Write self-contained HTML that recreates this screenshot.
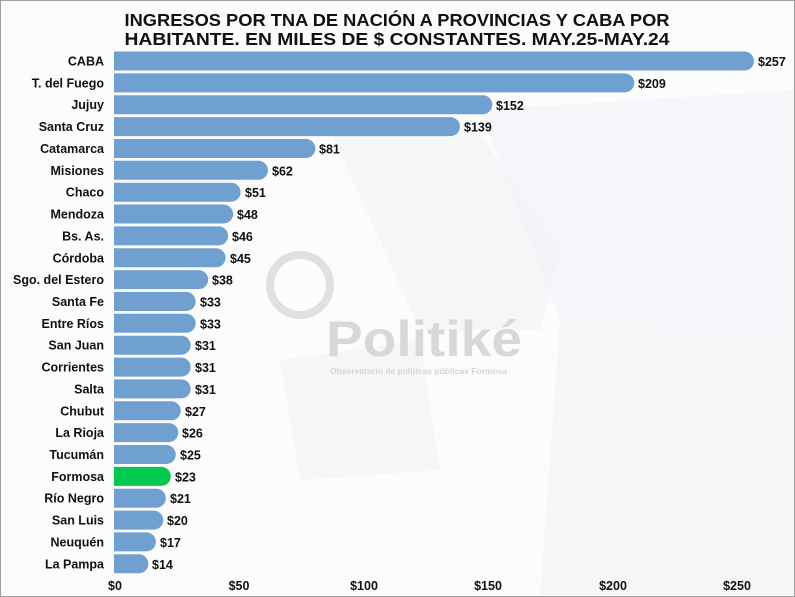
<!DOCTYPE html>
<html><head><meta charset="utf-8"><style>
html,body{margin:0;padding:0;background:#fff}
svg{display:block;font-family:"Liberation Sans",Arial,sans-serif}
</style></head><body>
<svg width="795" height="597" viewBox="0 0 795 597" xmlns="http://www.w3.org/2000/svg">
<rect x="0" y="0" width="795" height="597" fill="#fcfcfd"/>
<path d="M330 130 L470 120 L560 250 L540 330 L420 330 Z" fill="#f0f1f3" opacity="0.6"/>
<path d="M480 110 L795 90 L795 330 L560 320 Z" fill="#f1f3f6" opacity="0.7"/>
<path d="M560 320 L795 330 L795 597 L540 597 Z" fill="#f3f4f6" opacity="0.7"/>
<path d="M280 360 L420 340 L440 470 L300 480 Z" fill="#f1f2f4" opacity="0.6"/>
<circle cx="300" cy="285" r="30" fill="none" stroke="#e0e0e0" stroke-width="8"/>
<text x="326" y="356" font-size="50" font-weight="bold" fill="#d8d8d8" textLength="196" lengthAdjust="spacingAndGlyphs">Politiké</text>
<text x="330" y="374" font-size="8.5" font-weight="bold" fill="#d4d4d4">Observatorio de políticas públicas Formosa</text>
<rect x="0.5" y="0.5" width="794" height="596" fill="none" stroke="#a0a0a0"/>
<text x="397" y="26" font-size="17.5" font-weight="bold" text-anchor="middle" fill="#111" textLength="545" lengthAdjust="spacingAndGlyphs">INGRESOS POR TNA DE NACIÓN A PROVINCIAS Y CABA POR</text>
<text x="397" y="45" font-size="17.5" font-weight="bold" text-anchor="middle" fill="#111" textLength="545" lengthAdjust="spacingAndGlyphs">HABITANTE. EN MILES DE $ CONSTANTES. MAY.25-MAY.24</text>
<g font-size="12.5" font-weight="bold" fill="#111" text-anchor="middle">
<text x="115" y="590">$0</text><text x="239" y="590">$50</text><text x="364" y="590">$100</text><text x="488" y="590">$150</text><text x="613" y="590">$200</text><text x="737" y="590">$250</text>
</g>
<g font-size="12.5" font-weight="bold" fill="#111">
<path d="M114 51.5 H744.5 a9.5 9.5 0 0 1 0 19 H114 Z" fill="#6fa0cf"/><text x="104" y="65.5" text-anchor="end">CABA</text><text x="758" y="66">$257</text>
<path d="M114 73.4 H624.8 a9.5 9.5 0 0 1 0 19 H114 Z" fill="#6fa0cf"/><text x="104" y="87.4" text-anchor="end">T. del Fuego</text><text x="638" y="88">$209</text>
<path d="M114 95.2 H482.8 a9.5 9.5 0 0 1 0 19 H114 Z" fill="#6fa0cf"/><text x="104" y="109.2" text-anchor="end">Jujuy</text><text x="496" y="110">$152</text>
<path d="M114 117.1 H450.4 a9.5 9.5 0 0 1 0 19 H114 Z" fill="#6fa0cf"/><text x="104" y="131.1" text-anchor="end">Santa Cruz</text><text x="464" y="131.6">$139</text>
<path d="M114 139 H305.9 a9.5 9.5 0 0 1 0 19 H114 Z" fill="#6fa0cf"/><text x="104" y="153" text-anchor="end">Catamarca</text><text x="319" y="153.5">$81</text>
<path d="M114 160.8 H258.5 a9.5 9.5 0 0 1 0 19 H114 Z" fill="#6fa0cf"/><text x="104" y="174.8" text-anchor="end">Misiones</text><text x="272" y="175.3">$62</text>
<path d="M114 182.7 H231.1 a9.5 9.5 0 0 1 0 19 H114 Z" fill="#6fa0cf"/><text x="104" y="196.7" text-anchor="end">Chaco</text><text x="245" y="197.2">$51</text>
<path d="M114 204.5 H223.6 a9.5 9.5 0 0 1 0 19 H114 Z" fill="#6fa0cf"/><text x="104" y="218.5" text-anchor="end">Mendoza</text><text x="237" y="219">$48</text>
<path d="M114 226.4 H218.6 a9.5 9.5 0 0 1 0 19 H114 Z" fill="#6fa0cf"/><text x="104" y="240.4" text-anchor="end">Bs. As.</text><text x="232" y="240.9">$46</text>
<path d="M114 248.3 H216.1 a9.5 9.5 0 0 1 0 19 H114 Z" fill="#6fa0cf"/><text x="104" y="262.3" text-anchor="end">Córdoba</text><text x="230" y="262.8">$45</text>
<path d="M114 270.1 H198.7 a9.5 9.5 0 0 1 0 19 H114 Z" fill="#6fa0cf"/><text x="104" y="284.1" text-anchor="end">Sgo. del Estero</text><text x="212" y="284.6">$38</text>
<path d="M114 292 H186.2 a9.5 9.5 0 0 1 0 19 H114 Z" fill="#6fa0cf"/><text x="104" y="306" text-anchor="end">Santa Fe</text><text x="200" y="306.5">$33</text>
<path d="M114 313.8 H186.2 a9.5 9.5 0 0 1 0 19 H114 Z" fill="#6fa0cf"/><text x="104" y="327.8" text-anchor="end">Entre Ríos</text><text x="200" y="328.3">$33</text>
<path d="M114 335.7 H181.2 a9.5 9.5 0 0 1 0 19 H114 Z" fill="#6fa0cf"/><text x="104" y="349.7" text-anchor="end">San Juan</text><text x="195" y="350.2">$31</text>
<path d="M114 357.6 H181.2 a9.5 9.5 0 0 1 0 19 H114 Z" fill="#6fa0cf"/><text x="104" y="371.6" text-anchor="end">Corrientes</text><text x="195" y="372.1">$31</text>
<path d="M114 379.4 H181.2 a9.5 9.5 0 0 1 0 19 H114 Z" fill="#6fa0cf"/><text x="104" y="393.4" text-anchor="end">Salta</text><text x="195" y="393.9">$31</text>
<path d="M114 401.3 H171.3 a9.5 9.5 0 0 1 0 19 H114 Z" fill="#6fa0cf"/><text x="104" y="415.3" text-anchor="end">Chubut</text><text x="185" y="415.8">$27</text>
<path d="M114 423.1 H168.8 a9.5 9.5 0 0 1 0 19 H114 Z" fill="#6fa0cf"/><text x="104" y="437.1" text-anchor="end">La Rioja</text><text x="182" y="437.6">$26</text>
<path d="M114 445 H166.3 a9.5 9.5 0 0 1 0 19 H114 Z" fill="#6fa0cf"/><text x="104" y="459" text-anchor="end">Tucumán</text><text x="180" y="459.5">$25</text>
<path d="M114 466.9 H161.3 a9.5 9.5 0 0 1 0 19 H114 Z" fill="#00c850"/><text x="104" y="480.9" text-anchor="end">Formosa</text><text x="175" y="481.4">$23</text>
<path d="M114 488.7 H156.3 a9.5 9.5 0 0 1 0 19 H114 Z" fill="#6fa0cf"/><text x="104" y="502.7" text-anchor="end">Río Negro</text><text x="170" y="503.2">$21</text>
<path d="M114 510.6 H153.8 a9.5 9.5 0 0 1 0 19 H114 Z" fill="#6fa0cf"/><text x="104" y="524.6" text-anchor="end">San Luis</text><text x="167" y="525.1">$20</text>
<path d="M114 532.4 H146.4 a9.5 9.5 0 0 1 0 19 H114 Z" fill="#6fa0cf"/><text x="104" y="546.4" text-anchor="end">Neuquén</text><text x="160" y="546.9">$17</text>
<path d="M114 554.3 H138.9 a9.5 9.5 0 0 1 0 19 H114 Z" fill="#6fa0cf"/><text x="104" y="568.3" text-anchor="end">La Pampa</text><text x="152" y="568.8">$14</text>
</g>
</svg>
</body></html>
